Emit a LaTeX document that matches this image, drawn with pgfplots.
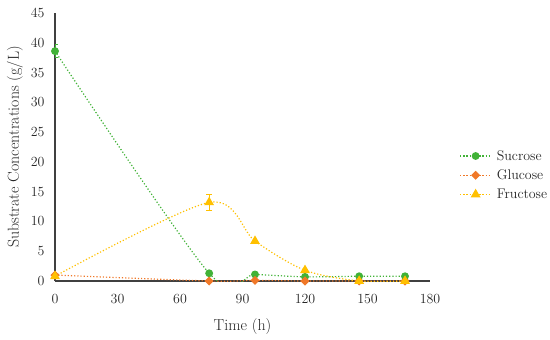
\documentclass[border=0pt]{standalone}
\usepackage{pgfplots}
\pgfplotsset{compat=1.18}
\definecolor{sucr}{RGB}{65,178,55}
\definecolor{gluc}{RGB}{240,120,40}
\definecolor{fruc}{RGB}{255,192,0}
\definecolor{axgray}{RGB}{64,64,64}
\begin{document}
\begin{tikzpicture}[x=1bp,y=1bp]
\useasboundingbox (-55,-58) rectangle (495,281);
\begin{axis}[
  at={(0,0)}, anchor=south west,
  scale only axis, width=375bp, height=268bp,
  xmin=0, xmax=180, ymin=0, ymax=45,
  xtick={0,30,...,180}, ytick={0,5,...,45},
  axis x line*=bottom, axis y line*=left,
  axis line style={axgray, line width=1.3pt},
  major tick length=0pt,
  tick label style={font=\fontsize{14}{15}\selectfont, text=black!85},
  /pgf/number format/assume math mode=true,
  xticklabel style={yshift=-10bp},
  yticklabel style={xshift=-7bp},
  xlabel={Time (h)}, ylabel={Substrate Concentrations (g/L)},
  label style={font=\fontsize{16}{17}\selectfont, text=black!85},
  xlabel style={yshift=-8bp},
  ylabel style={yshift=1bp},
  legend style={draw=none, fill=none, at={(1.07,0.395)}, anchor=west,
    font=\fontsize{14}{15}\selectfont, row sep=4bp, column sep=3bp, text=black!85},
  legend cell align=left,
  legend image code/.code={
    \draw[mark repeat=2,mark phase=2,#1] plot coordinates {(0cm,0cm) (0.55cm,0cm) (1.1cm,0cm)};
  },
  every axis plot/.append style={line width=1.2pt, dotted},
]
\addplot[sucr, smooth, tension=0.5, mark=*, mark size=3.3bp, mark options={solid, fill=sucr},
  error bars/.cd, y dir=both, y explicit, error bar style={solid, line width=0.6pt}, error mark options={rotate=90, mark size=3bp, solid}]
  coordinates {(0,38.6) +- (0,1.1) (74,1.3) +- (0,0.1) (96,1.1) +- (0,0.1) (120,0.7) +- (0,0.1) (146,0.8) +- (0,0.1) (168,0.8) +- (0,0.1)};
\addlegendentry{Sucrose}
\addplot[gluc, smooth, tension=0.5, mark=square*, mark size=2.6bp, mark options={solid, fill=gluc, rotate=45}]
  coordinates {(0,1.0) (74,0.0) (96,0.1) (120,0.0) (146,0.0) (168,0.0)};
\addlegendentry{Glucose}
\addplot[fruc, smooth, tension=0.5, mark=triangle*, mark size=4.5bp, mark options={solid, fill=fruc},
  error bars/.cd, y dir=both, y explicit, error bar style={solid, line width=0.6pt}, error mark options={rotate=90, mark size=3bp, solid}]
  coordinates {(0,0.8) +- (0,0.2) (74,13.2) +- (0,1.3) (96,6.7) +- (0,0.2) (120,1.8) +- (0,0.2) (146,0.0) +- (0,0.1) (168,0.0) +- (0,0.1)};
\addlegendentry{Fructose}
\end{axis}
\end{tikzpicture}
\end{document}
